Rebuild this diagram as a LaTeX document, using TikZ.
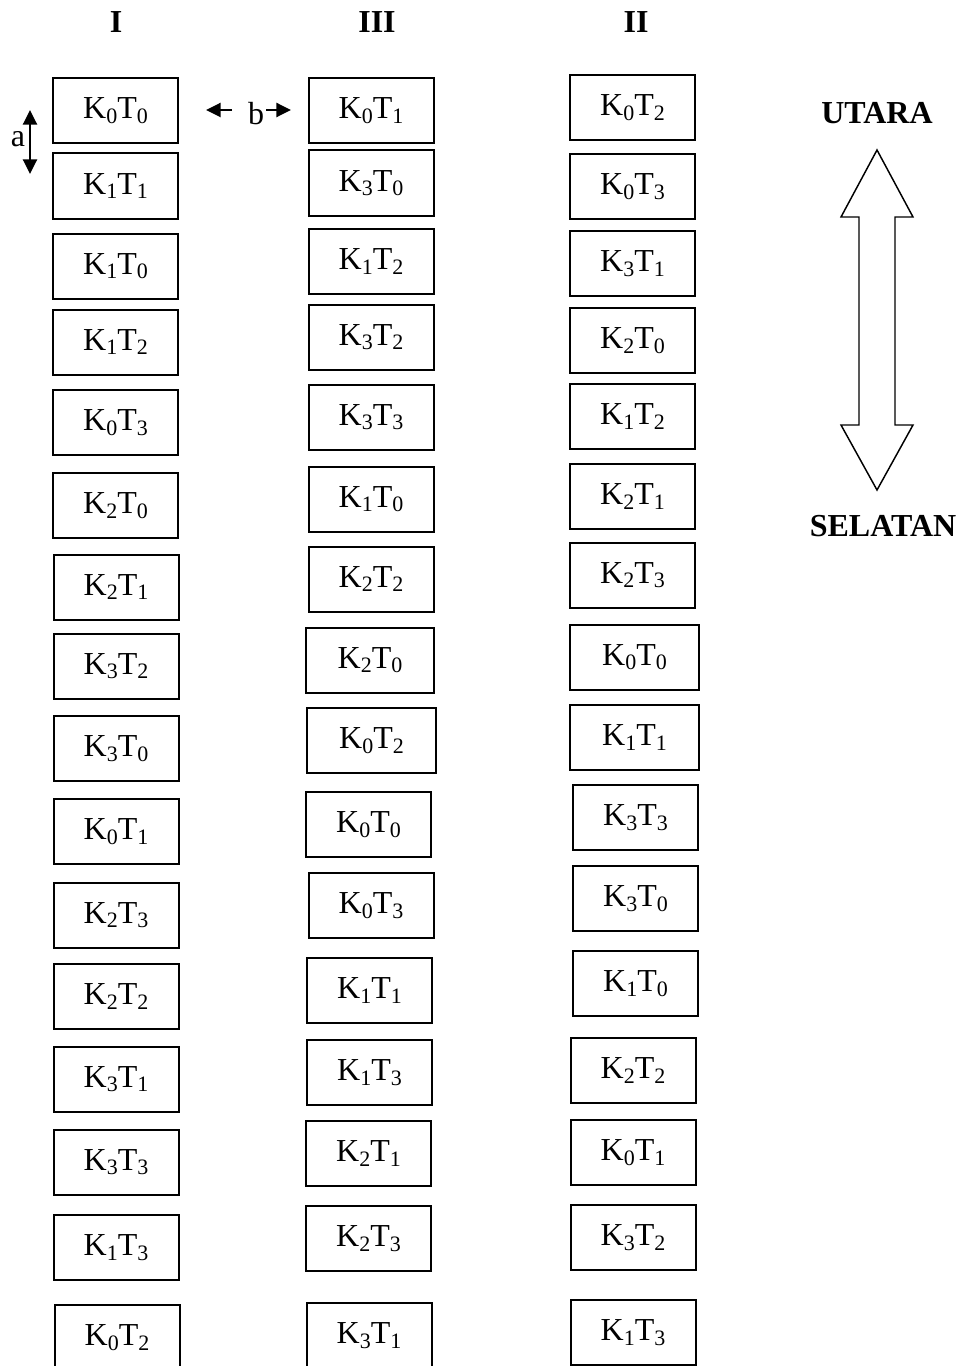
\documentclass[tikz,border=0pt]{standalone}
\usepackage{fontspec}
\setmainfont{Liberation Serif}
\usetikzlibrary{arrows.meta}

% plot label K_iT_j with lowered, smaller indices
\newcommand\ktidx[1]{\lower3.4pt\hbox{\fontsize{16.5}{16.5}\selectfont #1}}
\newcommand\ktlabel[2]{K\ktidx{#1}T\ktidx{#2}}

\tikzset{
  cell/.style={draw, line width=1.5pt, minimum width=93.75pt, minimum height=48.75pt,
    inner sep=0pt, font=\fontsize{24}{28}\selectfont},
  wide/.style={minimum width=96.5pt},
  head/.style={font=\fontsize{24}{28}\selectfont\bfseries},
  tip/.tip={Triangle[length=11pt,width=10.5pt]},
  gap/.style={line width=1.8pt, -tip},
  gapboth/.style={line width=1.8pt, tip-tip},
  compass/.style={draw, line width=1.1pt, line join=miter},
}

\begin{document}
\begin{tikzpicture}[x=0.75pt, y=-0.75pt]
\clip (0,0) rectangle (966,1366);

% column headings
\node[head] (hI)   at (116,22) {I};
\node[head] (hIII) at (377,22) {III};
\node[head] (hII)  at (636,22) {II};

% column I
\node[cell] (i1)  at (115.5,110.5)  {\ktlabel00};
\node[cell] (i2)  at (115.5,186)    {\ktlabel11};
\node[cell] (i3)  at (115.5,266)    {\ktlabel10};
\node[cell] (i4)  at (115.5,342)    {\ktlabel12};
\node[cell] (i5)  at (115.5,422.5)  {\ktlabel03};
\node[cell] (i6)  at (115.5,505.5)  {\ktlabel20};
\node[cell] (i7)  at (116,587)      {\ktlabel21};
\node[cell] (i8)  at (116,666)      {\ktlabel32};
\node[cell] (i9)  at (116,748.5)    {\ktlabel30};
\node[cell] (i10) at (116,831.5)    {\ktlabel01};
\node[cell] (i11) at (116,915)      {\ktlabel23};
\node[cell] (i12) at (116,996.5)    {\ktlabel22};
\node[cell] (i13) at (116,1079)     {\ktlabel31};
\node[cell] (i14) at (116,1162)     {\ktlabel33};
\node[cell] (i15) at (116,1247.5)   {\ktlabel13};
\node[cell] (i16) at (117,1337.5)   {\ktlabel02};

% column III
\node[cell] (m1)  at (371,110.5)  {\ktlabel01};
\node[cell] (m2)  at (371,183)    {\ktlabel30};
\node[cell] (m3)  at (371,261.5)  {\ktlabel12};
\node[cell] (m4)  at (371,337)    {\ktlabel32};
\node[cell] (m5)  at (371,417)    {\ktlabel33};
\node[cell] (m6)  at (371,499)    {\ktlabel10};
\node[cell] (m7)  at (371,579)    {\ktlabel22};
\node[cell,wide] (m8)  at (370,660)    {\ktlabel20};
\node[cell,wide] (m9)  at (371.5,740.5)  {\ktlabel02};
\node[cell] (m10) at (368.5,824.5)  {\ktlabel00};
\node[cell] (m11) at (371,905.5)  {\ktlabel03};
\node[cell] (m12) at (369.5,990.5)  {\ktlabel11};
\node[cell] (m13) at (369.5,1072.5) {\ktlabel13};
\node[cell] (m14) at (368.5,1153.5) {\ktlabel21};
\node[cell] (m15) at (368.5,1238.5) {\ktlabel23};
\node[cell] (m16) at (369,1335.5) {\ktlabel31};

% column II
\node[cell] (r1)  at (632.5,107.5)  {\ktlabel02};
\node[cell] (r2)  at (632.5,186.5)  {\ktlabel03};
\node[cell] (r3)  at (632.5,263.5)  {\ktlabel31};
\node[cell] (r4)  at (632.5,340.5)  {\ktlabel20};
\node[cell] (r5)  at (632.5,416.5)  {\ktlabel12};
\node[cell] (r6)  at (632.5,496.5)  {\ktlabel21};
\node[cell] (r7)  at (632.5,575)    {\ktlabel23};
\node[cell,wide] (r8)  at (634.5,657)    {\ktlabel00};
\node[cell,wide] (r9)  at (634.5,737.5)  {\ktlabel11};
\node[cell] (r10) at (635.5,817.5)  {\ktlabel33};
\node[cell] (r11) at (635.5,898.5)  {\ktlabel30};
\node[cell] (r12) at (635.5,983.5)  {\ktlabel10};
\node[cell] (r13) at (633,1070.5)   {\ktlabel22};
\node[cell] (r14) at (633,1152.5)   {\ktlabel01};
\node[cell] (r15) at (633,1237.5)   {\ktlabel32};
\node[cell] (r16) at (633,1332.5)   {\ktlabel13};

% spacing marks: a (between rows), b (between columns)
\coordinate (aup) at (30,110);
\coordinate (adown) at (30,174);
\draw[gapboth] (aup) -- (adown);
\node[font=\fontsize{24}{28}\selectfont] (alab) at (18,139) {a};

\coordinate (bls) at (232,110);
\coordinate (ble) at (206,110);
\coordinate (brs) at (266,110);
\coordinate (bre) at (291,110);
\draw[gap] (bls) -- (ble);
\draw[gap] (brs) -- (bre);
\node[font=\fontsize{24}{28}\selectfont] (blab) at (256,114) {b};

% compass: north-south double block arrow
\node[head] (north) at (877,113) {UTARA};
\node[head] (south) at (883,526) {SELATAN};
\draw[compass] (877,150) -- (913,217) -- (895,217) -- (895,425) -- (913,425)
  -- (877,490) -- (841,425) -- (859,425) -- (859,217) -- (841,217) -- cycle;
\end{tikzpicture}
\end{document}
